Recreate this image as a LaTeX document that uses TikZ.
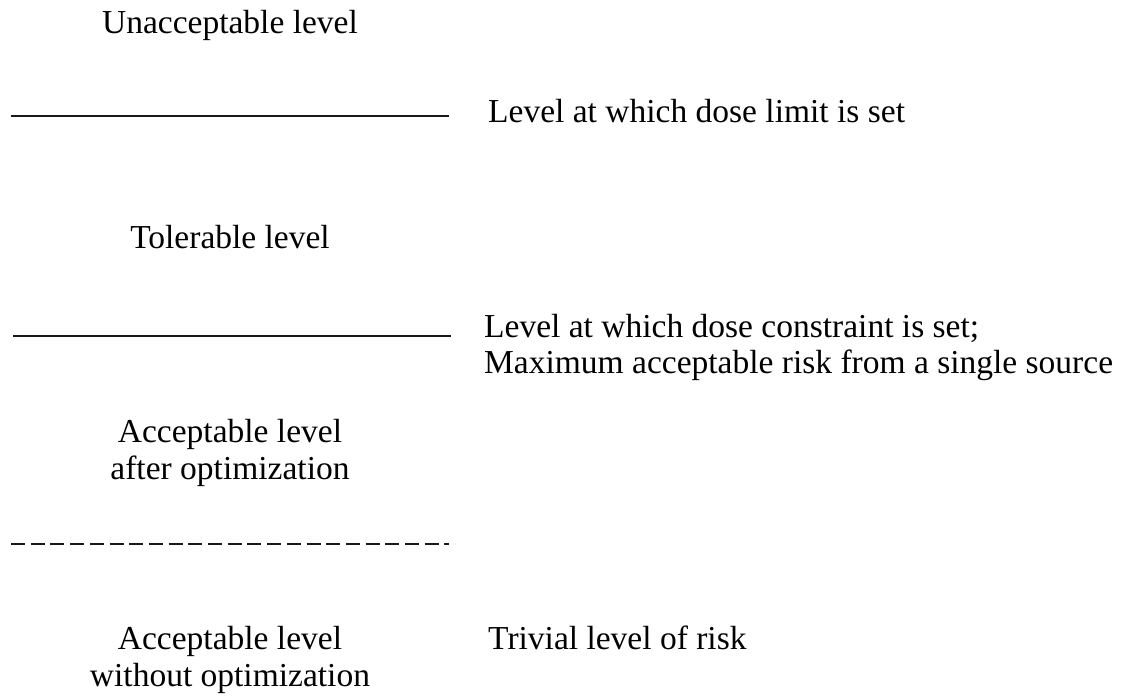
\documentclass[tikz,border=0pt]{standalone}
\usepackage{fontspec}
\setmainfont{Liberation Serif}
\usetikzlibrary{positioning}
\begin{document}
\begin{tikzpicture}[x=1pt,y=-1pt,line cap=butt,line join=round]
\path[fill=white] (0,0) rectangle (1125,696);
\tikzset{lvl/.style={font=\fontsize{33.5}{37}\selectfont,inner sep=0pt,align=center,anchor=base},note/.style={font=\fontsize{33.5}{36}\selectfont,inner sep=0pt,align=left,anchor=base west},bound/.style={draw=black!90,line width=2pt},softbound/.style={draw=black!90,line width=1.8pt,dash pattern=on 14pt off 5.7pt}}
% left column: the levels (base = baseline of last line)
\node[lvl] (unacc) at (230,33) {Unacceptable level};
\node[lvl] (toler) at (230,248) {Tolerable level};
\node[lvl] (accopt) at (230,479) {Acceptable level\\after optimization};
\node[lvl] (accnoopt) at (230,686) {Acceptable level\\without optimization};
% boundaries between levels
\coordinate (limA) at (11,116); \coordinate (limB) at (449,116);
\coordinate (conA) at (13,336); \coordinate (conB) at (451,336);
\coordinate (trivA) at (11,544); \coordinate (trivB) at (449,544);
\draw[bound] (limA) -- (limB);
\draw[bound] (conA) -- (conB);
\draw[softbound] (trivA) -- (trivB);
% right column: what each boundary means
\node[note] (limit) at (488,122) {Level at which dose limit is set};
\node[note] (constr) at (484,373) {Level at which dose constraint is set;\\Maximum acceptable risk from a single source};
\node[note] (trivial) at (488,649) {Trivial level of risk};
\end{tikzpicture}
\end{document}
